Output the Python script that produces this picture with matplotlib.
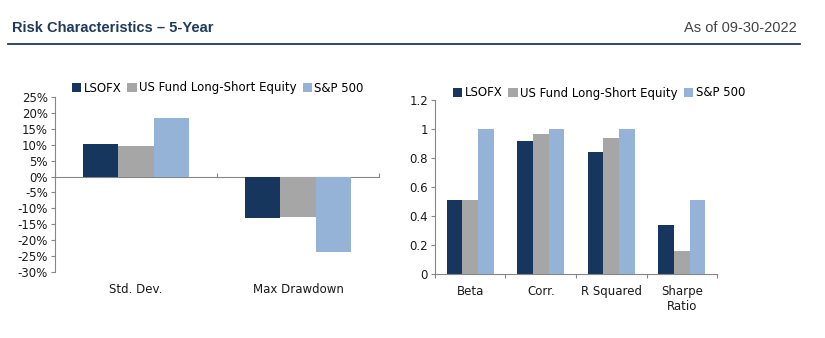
import numpy as np
import matplotlib
matplotlib.use("Agg")
import matplotlib.pyplot as plt
from matplotlib.patches import Patch
from matplotlib.lines import Line2D

# データ
series = ["LSOFX", "US Fund Long-Short Equity", "S&P 500"]
colors = ["#17365d", "#a6a6a6", "#95b3d7"]

left_cats = ["Std. Dev.", "Max Drawdown"]
left_lsofx = [10.1, -12.9]
left_fund = [9.5, -12.6]
left_sp = [18.3, -23.7]

right_cats = ["Beta", "Corr.", "R Squared", "Sharpe\nRatio"]
right_lsofx = [0.51, 0.92, 0.84, 0.34]
right_fund = [0.51, 0.97, 0.94, 0.16]
right_sp = [1.00, 1.00, 1.00, 0.51]

left_ticks = list(range(-30, 30, 5))
right_ticks = [0, 0.2, 0.4, 0.6, 0.8, 1.0, 1.2]

AXIS_GRAY = "#868686"
NAVY = "#1f3a5c"
TXT = "#1a1a1a"
FS = 8.5


def draw_bars(ax, values, ncat):
    x = np.arange(ncat)
    w = 0.22
    for i, (vals, c) in enumerate(zip(values, colors)):
        ax.bar(x + (i - 1) * w, vals, width=w, color=c, zorder=2)
    ax.set_xlim(-0.5, ncat - 0.5)
    for s in ["top", "right"]:
        ax.spines[s].set_visible(False)
    ax.spines["left"].set_color(AXIS_GRAY)
    ax.tick_params(axis="y", colors=AXIS_GRAY, labelcolor=TXT, labelsize=FS,
                   length=3, direction="out", pad=2)


fig = plt.figure(figsize=(8.25, 3.38), dpi=100)

# ヘッダー
fig.text(12 / 825, 1 - 28 / 338, "Risk Characteristics \u2013 5-Year",
         family="Liberation Sans", fontweight="bold",
         fontsize=10.5, color=NAVY, va="center", ha="left")
fig.text(797 / 825, 1 - 28 / 338, "As of 09-30-2022",
         family="Liberation Sans",
         fontsize=10.5, color="#444444", va="center", ha="right")
fig.add_artist(Line2D([8 / 825, 800 / 825], [1 - 44 / 338, 1 - 44 / 338],
                      color=NAVY, lw=1.3))

# 左グラフ
ax1 = fig.add_axes([55 / 825, 1 - 272 / 338, (379 - 55) / 825, (272 - 97) / 338])
draw_bars(ax1, [left_lsofx, left_fund, left_sp], len(left_cats))
ax1.set_ylim(-30, 25)
ax1.set_yticks(left_ticks)
ax1.set_yticklabels([f"{t}%" for t in left_ticks])
ax1.spines["bottom"].set_visible(False)
ax1.set_xticks(np.arange(len(left_cats)))
ax1.set_xticklabels(left_cats, fontsize=FS, color=TXT)
ax1.tick_params(axis="x", length=0, pad=8)
zero_pos = (0 - (-30)) / (25 - (-30))
sec = ax1.secondary_xaxis(zero_pos)
sec.set_xticks(np.arange(len(left_cats) + 1) - 0.5)
sec.set_xticklabels([])
for sp in sec.spines.values():
    sp.set_color(AXIS_GRAY)
sec.tick_params(axis="x", colors=AXIS_GRAY, length=3, direction="out")

h = [Patch(facecolor=c) for c in colors]
fig.legend(h, series, loc="center left", bbox_to_anchor=(66 / 825, 1 - 88 / 338),
           ncol=3, frameon=False, fontsize=FS, handlelength=0.8, handleheight=0.9,
           handletextpad=0.2, columnspacing=0.5, borderpad=0)

# 右グラフ
ax2 = fig.add_axes([435 / 825, 1 - 273.7 / 338, (717 - 435) / 825, (273.7 - 100.3) / 338])
draw_bars(ax2, [right_lsofx, right_fund, right_sp], len(right_cats))
ax2.set_ylim(0, 1.2)
ax2.set_yticks(right_ticks)
ax2.set_yticklabels([f"{t:g}" for t in right_ticks])
ax2.spines["bottom"].set_color(AXIS_GRAY)
ax2.set_xticks(np.arange(len(right_cats) + 1) - 0.5)
ax2.set_xticklabels([])
ax2.set_xticks(np.arange(len(right_cats)), minor=True)
ax2.set_xticklabels(right_cats, minor=True, fontsize=FS, color=TXT, va="top")
ax2.tick_params(axis="x", which="major", colors=AXIS_GRAY, length=3, direction="out")
ax2.tick_params(axis="x", which="minor", length=0, pad=8)

fig.legend(h, series, loc="center left", bbox_to_anchor=(447 / 825, 1 - 93 / 338),
           ncol=3, frameon=False, fontsize=FS, handlelength=0.8, handleheight=0.9,
           handletextpad=0.2, columnspacing=0.5, borderpad=0)

fig.savefig("out.png", dpi=100)
